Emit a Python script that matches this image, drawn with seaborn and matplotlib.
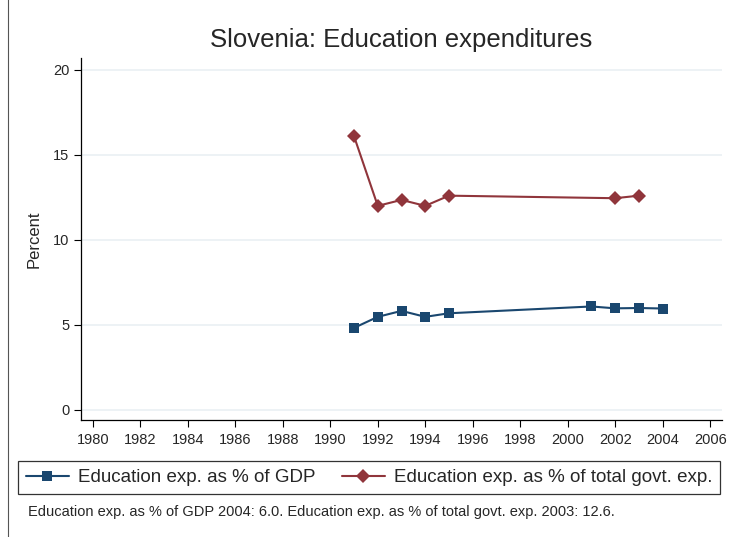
import matplotlib
matplotlib.use("Agg")
import matplotlib.pyplot as plt
import seaborn as sns
import pandas as pd
from matplotlib.patches import Rectangle
from matplotlib.lines import Line2D

# data
gdp_years = [1991, 1992, 1993, 1994, 1995, 2001, 2002, 2003, 2004]
gdp_pct = [4.82, 5.47, 5.82, 5.47, 5.68, 6.08, 5.97, 5.99, 5.96]

govt_years = [1991, 1992, 1993, 1994, 1995, 2002, 2003]
govt_pct = [16.1, 12.0, 12.35, 12.0, 12.6, 12.45, 12.6]

gdp_label = "Education exp. as % of GDP"
govt_label = "Education exp. as % of total govt. exp."
x_ticks = list(range(1980, 2007, 2))
y_ticks = [0, 5, 10, 15, 20]

navy = "#1a476f"
maroon = "#90353b"

df = pd.concat([
    pd.DataFrame({"year": gdp_years, "pct": gdp_pct, "series": gdp_label}),
    pd.DataFrame({"year": govt_years, "pct": govt_pct, "series": govt_label}),
])

sns.set_style("white")
plt.rcParams["font.family"] = ["Liberation Sans", "DejaVu Sans"]

fig = plt.figure(figsize=(7.31, 5.37), dpi=100)
ax = fig.add_axes([81 / 731, 1 - 420 / 537, (722 - 81) / 731, (420 - 58) / 537])

sns.lineplot(data=df, x="year", y="pct", hue="series", style="series",
             palette=[navy, maroon], markers=["s", "D"], dashes=False,
             markersize=7.5, markeredgewidth=0, linewidth=1.5, ax=ax, legend=False)

ax.set_xlim(1979.5, 2006.5)
ax.set_ylim(-0.6, 20.7)
ax.set_xticks(x_ticks)
ax.set_yticks(y_ticks)
ax.tick_params(axis="both", labelsize=10.5, length=5, width=0.8, color="black",
               direction="out", left=True, bottom=True)
ax.tick_params(axis="x", pad=4)
for s in ["top", "right"]:
    ax.spines[s].set_visible(False)
for s in ["left", "bottom"]:
    ax.spines[s].set_color("black")
    ax.spines[s].set_linewidth(0.9)
ax.yaxis.grid(True, color="#eaf0f4", linewidth=1.2)
ax.xaxis.grid(False)
ax.set_axisbelow(True)
ax.set_xlabel("")
ax.set_ylabel("Percent", fontsize=12, labelpad=8)

fig.text(401 / 731, 1 - 40 / 537, "Slovenia: Education expenditures",
         ha="center", va="center", fontsize=18.5)

# legend spanning the width of the graph
handles = [
    Line2D([], [], color=navy, marker="s", markersize=7, markeredgewidth=0, linewidth=1.5),
    Line2D([], [], color=maroon, marker="D", markersize=7, markeredgewidth=0, linewidth=1.5),
]
leg = fig.legend(handles, [gdp_label, govt_label], loc="center",
                 bbox_to_anchor=(18 / 731, 1 - 495 / 537, 702 / 731, 35 / 537),
                 mode="expand", ncol=2,
                 fontsize=13.5, frameon=True, fancybox=False, edgecolor="black",
                 handlelength=2.3, columnspacing=1.0, borderpad=0.4, handletextpad=0.5,
                 borderaxespad=0)
leg.get_frame().set_linewidth(0.9)

fig.text(28 / 731, 1 - 512 / 537,
         "Education exp. as % of GDP 2004: 6.0. Education exp. as % of total govt. exp. 2003: 12.6.",
         ha="left", va="center", fontsize=10.5)

# outer graph region edge
fig.patches.append(Rectangle((8 / 731, -0.1), 2, 1.12, transform=fig.transFigure,
                             fill=False, edgecolor="#555555", linewidth=0.8))

fig.savefig("out.png", dpi=100)
